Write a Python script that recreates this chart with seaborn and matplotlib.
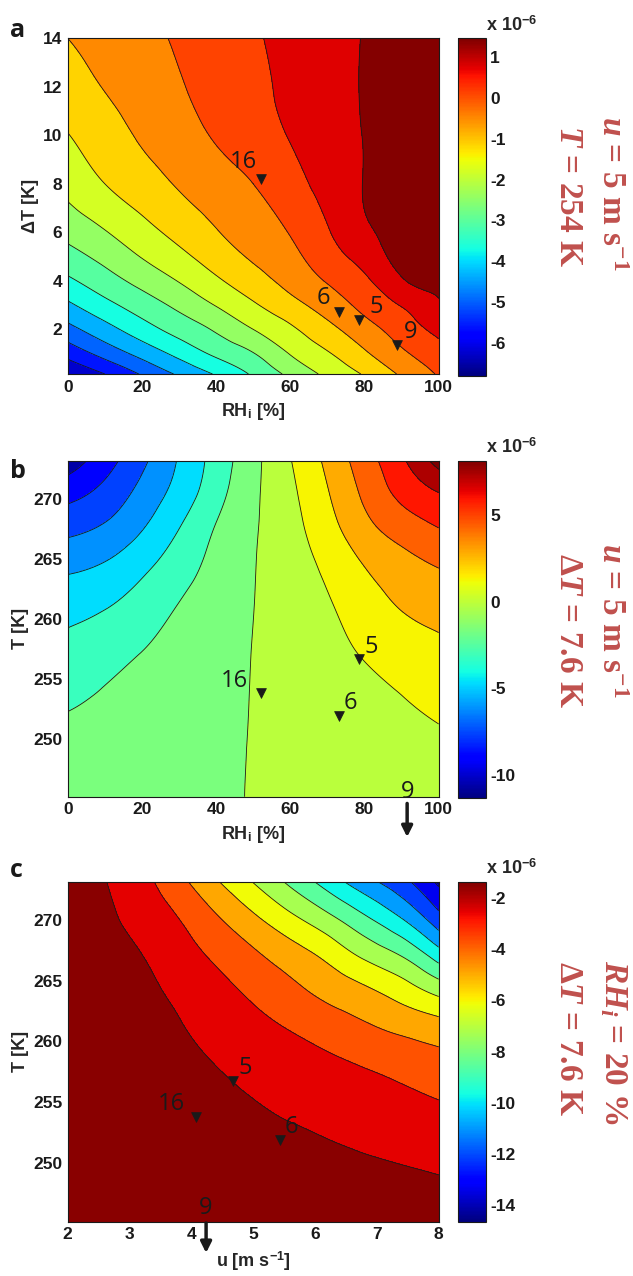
import numpy as np
import matplotlib
matplotlib.use('Agg')
import matplotlib.pyplot as plt
import matplotlib.tri as mtri
from matplotlib.colors import Normalize
from matplotlib.cm import ScalarMappable
import seaborn as sns

# region Data (flux values in units of 1e-6)
# Panel a: RH_i [%] vs dT [K]
rh_a = [0, 10, 20, 30, 40, 50, 60, 70, 80, 90, 100]
dT_a = [0.16, 1, 2, 3, 4, 6, 8, 10, 12, 14]
flux_a = [
    [-6.80, -6.17, -5.47, -4.81, -4.20, -3.54, -2.84, -2.22, -1.66, -1.00, -0.39],
    [-5.95, -5.31, -4.69, -4.08, -3.51, -3.02, -2.33, -1.78, -1.18, -0.57, -0.07],
    [-5.11, -4.50, -3.91, -3.39, -2.91, -2.36, -1.83, -1.28, -0.71, -0.16, 0.34],
    [-4.38, -3.82, -3.32, -2.84, -2.33, -1.80, -1.31, -0.80, -0.28, 0.22, 0.74],
    [-3.75, -3.26, -2.79, -2.33, -1.82, -1.35, -0.88, -0.41, 0.05, 0.76, 0.97],
    [-2.80, -2.40, -1.95, -1.53, -1.13, -0.78, -0.42, 0.12, 0.70, 1.00, 1.13],
    [-2.16, -1.72, -1.37, -1.03, -0.74, -0.45, -0.04, 0.40, 0.84, 1.06, 1.23],
    [-1.74, -1.37, -1.01, -0.70, -0.39, -0.09, 0.21, 0.52, 0.84, 1.08, 1.32],
    [-1.39, -1.06, -0.78, -0.50, -0.23, 0.04, 0.31, 0.59, 0.86, 1.12, 1.39],
    [-1.09, -0.85, -0.61, -0.38, -0.13, 0.11, 0.36, 0.60, 0.85, 1.15, 1.45],
]
levels_a = [-6.8, -6.17, -5.53, -4.9, -4.26, -3.63, -2.99, -2.36, -1.72, -1.09, -0.45, 0.18, 0.82, 1.45]
cticks_a = [-6, -5, -4, -3, -2, -1, 0, 1]

# Panel b: RH_i [%] vs T [K]
rh_b = [0, 10, 20, 30, 40, 50, 60, 70, 80, 90, 100]
T_b = [245.15, 249, 253, 257, 261, 265, 268, 270.5, 273.15]
flux_b = [
    [-2.18, -2.04, -1.89, -1.76, -1.61, -1.47, -1.35, -1.23, -1.11, -0.99, -0.90],
    [-2.61, -2.39, -2.15, -1.92, -1.68, -1.46, -1.23, -1.02, -0.80, -0.57, -0.35],
    [-3.12, -2.81, -2.46, -2.13, -1.80, -1.46, -1.11, -0.77, -0.42, -0.08, 0.30],
    [-3.96, -3.45, -2.96, -2.49, -1.97, -1.47, -0.96, -0.44, 0.08, 0.57, 1.08],
    [-5.01, -4.59, -3.80, -2.94, -2.24, -1.52, -0.83, -0.14, 0.75, 1.59, 2.03],
    [-6.62, -6.12, -5.10, -3.83, -2.60, -1.58, -0.65, 0.41, 1.70, 2.63, 3.32],
    [-8.16, -7.50, -6.26, -4.67, -3.00, -1.68, -0.47, 1.01, 2.67, 3.86, 4.71],
    [-9.56, -8.55, -7.05, -5.43, -3.56, -1.80, -0.30, 1.41, 3.29, 4.89, 6.00],
    [-11.34, -9.65, -7.83, -5.87, -3.90, -1.94, -0.06, 1.82, 3.80, 5.75, 8.13],
]
levels_b = [-11.34, -10.5, -9, -7.5, -6, -4.5, -3, -1.5, 0, 1.5, 3, 4.5, 6, 7.5, 8.13]
cticks_b = [-10, -5, 0, 5]

# Panel c: u [m/s] vs T [K]
u_c = [2, 2.6, 3.2, 3.8, 4.4, 5.0, 5.6, 6.2, 6.8, 7.4, 8.0]
T_c = [245.15, 249, 253, 257, 261, 264, 267, 270, 273.15]
flux_c = [
    [-1.35, -1.36, -1.37, -1.39, -1.42, -1.45, -1.49, -1.54, -1.61, -1.69, -1.80],
    [-1.37, -1.43, -1.49, -1.56, -1.66, -1.76, -1.87, -1.99, -2.12, -2.26, -2.40],
    [-1.39, -1.55, -1.72, -1.87, -2.04, -2.20, -2.36, -2.54, -2.75, -2.94, -3.13],
    [-1.43, -1.64, -1.87, -2.09, -2.32, -2.57, -2.84, -3.13, -3.41, -3.71, -4.04],
    [-1.46, -1.75, -2.04, -2.33, -2.74, -3.19, -3.64, -4.12, -4.58, -5.02, -5.42],
    [-1.51, -1.85, -2.18, -2.60, -3.19, -3.79, -4.44, -5.08, -5.70, -6.48, -7.45],
    [-1.56, -1.97, -2.38, -3.06, -3.78, -4.56, -5.38, -6.26, -7.38, -8.40, -10.12],
    [-1.62, -2.15, -2.81, -3.58, -4.62, -5.72, -6.84, -7.98, -9.30, -10.70, -12.68],
    [-1.68, -2.36, -3.24, -4.45, -5.88, -7.25, -8.66, -10.12, -11.56, -12.82, -14.65],
]
levels_c = [-14.65, -14.4, -13.2, -12.0, -10.8, -9.6, -8.4, -7.2, -6.0, -4.8, -3.6, -2.4, -1.35]
cticks_c = [-14, -12, -10, -8, -6, -4, -2]

# Flight markers
flights_a = ['16', '6', '5', '9']
rh_flight_a = [52, 73.1, 78.5, 88.7]
dT_flight_a = [8.2, 2.73, 2.38, 1.35]

flights_b = ['16', '5', '6']
rh_flight_b = [52, 78.5, 73.1]
T_flight_b = [253.8, 256.6, 251.9]

flights_c = ['5', '16', '6']
u_flight_c = [4.68, 4.07, 5.43]
T_flight_c = [256.7, 253.8, 251.9]
# endregion

# Label offsets (pixels) for the flight numbers
off_a = [(-17, 17), (-16, 14), (17, 13), (14, 13)]
off_b = [(-26, 12), (12, 12), (11, 13)]
off_c = [(12, 13), (-24, 13), (12, 13)]

# Set the theme and fonts
sns.set_theme(style='white')
plt.rcParams['font.family'] = ['Liberation Sans', 'DejaVu Sans']
plt.rcParams['font.weight'] = 'bold'
plt.rcParams['axes.labelweight'] = 'bold'
plt.rcParams['mathtext.fontset'] = 'custom'
plt.rcParams['mathtext.rm'] = 'Liberation Serif:bold'
plt.rcParams['mathtext.it'] = 'Liberation Serif:italic:bold'
plt.rcParams['mathtext.sf'] = 'Liberation Sans:bold'
plt.rcParams['mathtext.bf'] = 'Liberation Sans:bold'

side_color = '#C0504D'
tick_size = 12.5
label_size = 13


def smooth_grid(xs, ys, z):
    # triangulate the grid in unit coordinates and refine it for smooth contours
    xs = np.asarray(xs, float)
    ys = np.asarray(ys, float)
    X, Y = np.meshgrid((xs - xs[0]) / (xs[-1] - xs[0]), (ys - ys[0]) / (ys[-1] - ys[0]))
    tri = mtri.Triangulation(X.ravel(), Y.ravel())
    zz = np.asarray(z, float).ravel()
    interp = mtri.CubicTriInterpolator(tri, zz, kind='min_E')
    tri_f, z_f = mtri.UniformTriRefiner(tri).refine_field(zz, triinterpolator=interp, subdiv=4)
    x_f = xs[0] + tri_f.x * (xs[-1] - xs[0])
    y_f = ys[0] + tri_f.y * (ys[-1] - ys[0])
    return mtri.Triangulation(x_f, y_f, tri_f.triangles), z_f


def band_colors(levels):
    # colour each band near its upper level (as the original contour tool does)
    lv = np.asarray(levels, float)
    pos = (lv[:-1] + 0.9 * np.diff(lv) - lv[0]) / (lv[-1] - lv[0])
    return plt.cm.jet(pos)


def draw_panel(ax, cax, xs, ys, z, levels, cticks):
    tri, zf = smooth_grid(xs, ys, z)
    zf = np.clip(zf, levels[0], levels[-1])
    ax.tricontourf(tri, zf, levels=levels, colors=band_colors(levels))
    ax.tricontour(tri, zf, levels=levels[1:-1], colors='k', linewidths=0.6,
                  linestyles='solid')
    ax.set_xlim(xs[0], xs[-1])
    ax.set_ylim(ys[0], ys[-1])
    ax.tick_params(direction='in', top=True, right=True, length=4, width=0.6,
                   labelsize=tick_size, colors='k', pad=4)
    for s in ax.spines.values():
        s.set_color('k')
        s.set_linewidth(0.8)

    # Colorbar
    sm = ScalarMappable(norm=Normalize(levels[0], levels[-1]), cmap='jet')
    cb = plt.colorbar(sm, cax=cax)
    cb.set_ticks(cticks)
    cb.ax.set_yticklabels([str(t) for t in cticks])
    cb.outline.set_edgecolor('k')
    cb.outline.set_linewidth(0.8)
    cax.tick_params(direction='in', left=True, right=True, length=3, width=0.6,
                    labelsize=tick_size, colors='k', pad=3)
    cax.text(1.0, 1.022, r'x 10$^{\mathsf{-6}}$', transform=cax.transAxes,
             ha='left', va='baseline', fontsize=13, fontweight='bold')


def add_flights(ax, xs, ys, names, offsets):
    sns.scatterplot(x=xs, y=ys, marker='v', color='k', edgecolor='k', s=50,
                    linewidth=0.5, ax=ax, legend=False, zorder=5)
    for name, x, y, off in zip(names, xs, ys, offsets):
        ax.annotate(name, (x, y), xytext=off, textcoords='offset pixels',
                    ha='center', va='center', fontsize=17, fontweight='normal',
                    family=['Open Sans', 'DejaVu Sans'], color='k', zorder=6)


def arrow_nine(ax, xfrac, yfrac_text, y0, y1):
    ax.text(xfrac, yfrac_text, '9', transform=ax.transAxes, ha='center', va='center',
            fontsize=17, fontweight='normal', family=['Open Sans', 'DejaVu Sans'],
            color='k', zorder=6, clip_on=False)
    ax.annotate('', xy=(xfrac, y1), xytext=(xfrac, y0), xycoords='axes fraction',
                arrowprops=dict(arrowstyle='-|>', color='k', lw=2.5, mutation_scale=16,
                                shrinkA=0, shrinkB=0),
                annotation_clip=False)


fig = plt.figure(figsize=(6.33, 12.76), dpi=100)

ax_a = fig.add_axes([0.107, 0.7069, 0.586, 0.2631])
cax_a = fig.add_axes([0.724, 0.7053, 0.0438, 0.2647])
ax_b = fig.add_axes([0.107, 0.3756, 0.586, 0.2633])
cax_b = fig.add_axes([0.724, 0.3744, 0.0438, 0.2646])
ax_c = fig.add_axes([0.107, 0.0426, 0.586, 0.2665])
cax_c = fig.add_axes([0.724, 0.0426, 0.0438, 0.2665])

# region Panel a
draw_panel(ax_a, cax_a, rh_a, dT_a, flux_a, levels_a, cticks_a)
ax_a.set_xticks([0, 20, 40, 60, 80, 100])
ax_a.set_yticks([2, 4, 6, 8, 10, 12, 14])
ax_a.set_xlabel(r'RH$_\mathsf{i}$ [%]', fontsize=label_size, labelpad=5)
ax_a.set_ylabel('\u0394T [K]', fontsize=label_size, labelpad=3)
add_flights(ax_a, rh_flight_a, dT_flight_a, flights_a, off_a)
# endregion

# region Panel b
draw_panel(ax_b, cax_b, rh_b, T_b, flux_b, levels_b, cticks_b)
ax_b.set_xticks([0, 20, 40, 60, 80, 100])
ax_b.set_yticks([250, 255, 260, 265, 270])
ax_b.set_xlabel(r'RH$_\mathsf{i}$ [%]', fontsize=label_size, labelpad=5)
ax_b.set_ylabel('T [K]', fontsize=label_size, labelpad=3)
add_flights(ax_b, rh_flight_b, T_flight_b, flights_b, off_b)
arrow_nine(ax_b, 0.915, 0.015, -0.02, -0.12)
# endregion

# region Panel c
draw_panel(ax_c, cax_c, u_c, T_c, flux_c, levels_c, cticks_c)
ax_c.set_xticks([2, 3, 4, 5, 6, 7, 8])
ax_c.set_yticks([250, 255, 260, 265, 270])
ax_c.set_xlabel(r'u [m s$^{\mathsf{-1}}$]', fontsize=label_size, labelpad=5)
ax_c.set_ylabel('T [K]', fontsize=label_size, labelpad=3)
add_flights(ax_c, u_flight_c, T_flight_c, flights_c, off_c)
arrow_nine(ax_c, 0.373, 0.039, -0.004, -0.092)
# endregion

# Panel letters
for letter, y in zip(['a', 'b', 'c'], [0.971, 0.6254, 0.3127]):
    fig.text(0.016, y, letter, fontsize=18, fontweight='bold', va='baseline',
             family=['Open Sans', 'DejaVu Sans'], color='k')

# Side annotations (conditions held fixed in each panel)
side = dict(rotation=270, ha='center', va='center', fontsize=24, fontweight='bold',
            family=['Liberation Serif', 'DejaVu Serif'], color=side_color)
fig.text(611 / 633, 1 - 193 / 1276, r'$u$ = 5 m s$^{-1}$', **side)
fig.text(569 / 633, 1 - 196 / 1276, r'$T$ = 254 K', **side)
fig.text(611 / 633, 1 - 620 / 1276, r'$u$ = 5 m s$^{-1}$', **side)
fig.text(569 / 633, 1 - 630 / 1276, r'$\Delta T$ = 7.6 K', **side)
fig.text(613 / 633, 1 - 1043 / 1276, r'$RH_i$ = 20 %', **side)
fig.text(569 / 633, 1 - 1038 / 1276, r'$\Delta T$ = 7.6 K', **side)

plt.savefig('out.png', dpi=100)
